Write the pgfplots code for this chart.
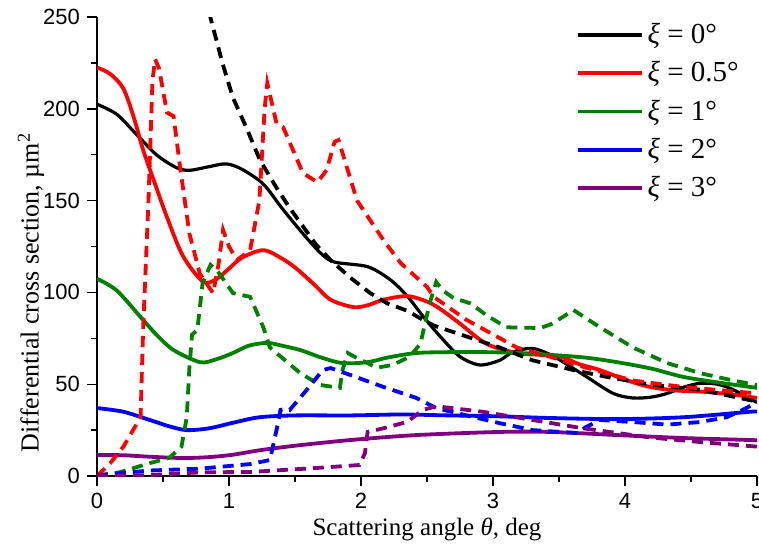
\documentclass[border=0pt]{standalone}
\usepackage{pgfplots}
\pgfplotsset{compat=1.18}
\usepackage{fontspec}
\setmainfont{Liberation Serif}
\newfontfamily\arialf{Liberation Sans}
\definecolor{cgreen}{RGB}{0,128,0}
\definecolor{cpurple}{RGB}{128,0,128}
\begin{document}
\begin{tikzpicture}
\begin{axis}[
  name=ax,
  scale only axis, width=330pt, height=229.5pt,
  xmin=0, xmax=5, ymin=0, ymax=250,
  axis x line*=bottom, axis y line*=left,
  axis line style={line width=0.9pt},
  tick align=outside,
  major tick length=5pt, minor tick length=3pt,
  every tick/.style={black, line width=0.7pt},
  xtick={0,1,2,3,4,5}, minor xtick={0.5,1.5,2.5,3.5,4.5},
  ytick={0,50,100,150,200,250}, minor ytick={25,75,125,175,225},
  /pgf/number format/assume math mode=true,
  tick label style={font=\arialf\fontsize{11}{13}\selectfont},
  xlabel style={font=\fontsize{12.5}{15}\selectfont, yshift=2pt},
  ylabel style={font=\fontsize{13}{15}\selectfont, at={(axis description cs:-0.1,0.40)}, anchor=center},
  xlabel={Scattering angle {\itshape θ}, deg},
  ylabel={Differential cross section, µm\textsuperscript{2}},
  clip=true,
  legend style={at={(rel axis cs:0.722,1.0)}, anchor=north west, draw=none, fill=none,
    font=\fontsize{14.5}{17}\selectfont, row sep=3.5pt, inner sep=1pt},
  legend cell align=left,
  legend image code/.code={\draw[#1] (0pt,0pt) -- (32pt,0pt);},
  every axis plot/.append style={line width=1.9pt},
]
% solid lines
\addplot[black, line width=1.6pt, smooth] coordinates {(0,202.5) (0.15,197) (0.3,186) (0.45,175) (0.6,168) (0.7,166.5) (0.85,168.5) (0.98,170) (1.1,167) (1.26,159) (1.4,146) (1.56,132) (1.7,121) (1.8,116.5) (2.05,114) (2.22,107) (2.35,98) (2.47,87) (2.6,76) (2.75,65) (2.9,60.5) (3.05,63) (3.15,67.5) (3.3,69.5) (3.45,65.5) (3.6,59) (3.71,54) (3.91,45) (4.06,42.5) (4.2,43) (4.32,45) (4.45,48.5) (4.57,50.5) (4.7,50) (4.82,47) (5,40)};
\addlegendentry{{\itshape ξ} = 0°}
\addplot[red, smooth] coordinates {(0,222.5) (0.1,219) (0.2,211) (0.28,195) (0.35,177.5) (0.45,157) (0.53,141) (0.65,120) (0.8,106) (0.9,107) (1.0,113) (1.1,119) (1.26,123) (1.4,118.5) (1.51,113) (1.65,104) (1.77,96) (1.94,92) (2.05,93) (2.17,96) (2.35,98) (2.5,95) (2.6,91) (2.75,83) (2.95,72) (3.18,67) (3.35,66) (3.51,65) (3.65,61) (3.81,57.7) (4.0,52.5) (4.19,48.5) (4.4,46.5) (4.57,46) (4.8,44.5) (5,42.5)};
\addlegendentry{{\itshape ξ} = 0.5°}
\addplot[cgreen, smooth] coordinates {(0,107.5) (0.15,101) (0.33,86.6) (0.45,77) (0.58,68.6) (0.78,62) (0.9,63.5) (1.03,67) (1.15,71) (1.29,72.5) (1.4,71) (1.54,68.6) (1.7,64.5) (1.86,61.5) (2.05,62) (2.2,64.5) (2.42,67) (2.7,67.5) (2.92,67.5) (3.2,67) (3.43,66) (3.7,64.5) (3.94,62) (4.2,58.5) (4.44,54) (4.7,51) (5,48)};
\addlegendentry{{\itshape ξ} = 1°}
\addplot[blue, smooth] coordinates {(0,37) (0.2,35) (0.4,30.5) (0.55,27) (0.68,25) (0.85,26) (1.03,29) (1.23,32) (1.5,33) (1.92,33) (2.3,33.5) (2.67,33) (3.05,32.5) (3.43,31.6) (3.94,31) (4.44,32) (4.95,35) (5,35)};
\addlegendentry{{\itshape ξ} = 2°}
\addplot[cpurple, smooth] coordinates {(0,11.5) (0.2,11.3) (0.4,10.5) (0.65,9.8) (0.85,10.3) (1.03,11.6) (1.23,14) (1.5,16.5) (1.92,19.6) (2.42,22.3) (3.05,24) (3.43,24) (3.94,22.3) (4.44,20.7) (4.95,19.6) (5,19.5)};
\addlegendentry{{\itshape ξ} = 3°}
% dashed lines
\addplot[black, dash pattern=on 5.5pt off 3.5pt, forget plot] coordinates {(0.82,262) (0.86,249.5) (0.95,225) (1.03,206) (1.13,190) (1.235,172) (1.36,157) (1.46,146) (1.56,136) (1.66,126) (1.77,117.6) (1.92,108) (2.07,99.6) (2.2,94) (2.35,90) (2.47,85) (2.55,82) (2.8,76) (3.05,70) (3.3,63) (3.61,57.7) (3.86,54) (4.21,49.6) (4.57,47) (5,40.5)};
\addplot[red, dash pattern=on 5.5pt off 3.5pt, forget plot] coordinates {(0,0) (0.1,7) (0.2,16) (0.33,32) (0.35,81) (0.39,150) (0.42,215) (0.44,227) (0.47,222) (0.53,198) (0.58,196) (0.63,168) (0.70,132) (0.78,110) (0.88,99.6) (0.92,115) (0.955,134) (1.0,125) (1.06,117.6) (1.16,123) (1.23,150) (1.27,200) (1.29,214) (1.36,192) (1.41,190) (1.56,165) (1.67,160) (1.74,166.7) (1.80,182) (1.83,183) (1.97,150) (2.17,128.5) (2.30,116) (2.50,103) (2.55,97.6) (2.8,85) (3.18,70) (3.43,65) (3.68,59.5) (4.06,52) (4.44,48.5) (5,45)};
\addplot[cgreen, dash pattern=on 5.5pt off 3.5pt, forget plot] coordinates {(0,0) (0.17,2) (0.40,7) (0.55,10) (0.64,16) (0.68,32) (0.70,59) (0.72,77) (0.76,79.5) (0.80,105) (0.86,115) (0.91,112) (1.03,99.6) (1.16,97.6) (1.26,81) (1.31,70) (1.54,56) (1.69,49.6) (1.84,48) (1.86,57.7) (1.90,67) (1.95,65) (2.12,59) (2.24,60.5) (2.37,65) (2.45,72) (2.52,94) (2.57,105.7) (2.62,101) (2.70,97) (2.83,94) (2.95,87.6) (3.10,81) (3.36,80.6) (3.45,83) (3.61,90.4) (3.81,81) (4.06,70) (4.32,61.5) (4.57,56) (4.82,52) (5,49.5)};
\addplot[blue, dash pattern=on 5.5pt off 3.5pt, forget plot] coordinates {(0,0.5) (0.4,3) (0.78,4) (1.16,6.5) (1.31,8.7) (1.36,25) (1.39,36) (1.42,36.5) (1.46,36) (1.59,47) (1.71,57.7) (1.77,58.8) (1.92,55) (2.17,48.5) (2.42,42.5) (2.57,37) (2.80,33) (3.05,28.8) (3.30,25) (3.64,23.4) (3.70,26.5) (3.81,30.5) (4.06,29.4) (4.32,28) (4.57,29.4) (4.77,32) (4.89,36) (5,40)};
\addplot[cpurple, dash pattern=on 5.5pt off 3.5pt, forget plot] coordinates {(0,0) (0.4,0.5) (0.78,2) (1.16,2.2) (1.67,4.4) (1.99,6) (2.03,12.5) (2.05,24) (2.17,26) (2.35,29.5) (2.47,36) (2.57,38) (2.92,35) (3.30,30.5) (3.68,26) (4.19,21) (4.57,18.5) (5,16)};
\end{axis}
\pgfresetboundingbox
\path[use as bounding box] ([shift={(-48.5pt,-33.5pt)}]ax.south west) rectangle ([shift={(1pt,8.5pt)}]ax.north east);
\end{tikzpicture}
\end{document}
